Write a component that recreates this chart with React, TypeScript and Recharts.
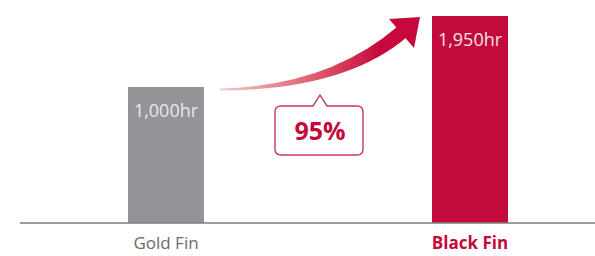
import { BarChart, Bar, XAxis, YAxis, Cell, LabelList, Customized } from "recharts";

const categories = ["Gold Fin", "Black Fin"];
const hours = [1000, 1950];
const hourLabels = ["1,000hr", "1,950hr"];
const barColors = ["#939498", "#c20a3d"];
const labelColors = ["#e9e9ea", "#f7e3e9"];
const tickColors = ["#6b6b6b", "#c20a3d"];
const improvement = "95%";

// axis floor sits below zero in the original artwork
const AXIS_MIN = -820;
const AXIS_MAX = 1950;

const data = categories.map((name, i) => ({
  name,
  hours: hours[i],
  label: hourLabels[i],
}));

const FONT = "'Open Sans', 'Noto Sans', sans-serif";

const CategoryTick = (props: any) => {
  const { x, y, payload, index } = props;
  return (
    <text
      x={x}
      y={y + 18}
      textAnchor="middle"
      fontSize={17}
      fontFamily={FONT}
      fontWeight={index === 1 ? 700 : 400}
      fill={tickColors[index]}
    >
      {payload.value}
    </text>
  );
};

const Annotation = () => (
  <g>
    <defs>
      <linearGradient id="arrowGrad" x1="220" y1="0" x2="420" y2="0" gradientUnits="userSpaceOnUse">
        <stop offset="0%" stopColor="#f4c9cc" />
        <stop offset="45%" stopColor="#dc6470" />
        <stop offset="80%" stopColor="#c8083c" />
        <stop offset="100%" stopColor="#c8083c" />
      </linearGradient>
    </defs>
    <path
      d="M220,88.5 Q328,86 397,27 L407,37 Q345,90 220,90.5 Z"
      fill="url(#arrowGrad)"
    />
    <path d="M389,19 L420,17 L414,48 Z" fill="#c8083c" />
    <path
      d="M281,106 L313,106 L320,95 L327,106 L357,106 Q363,106 363,112 L363,149 Q363,155 357,155 L281,155 Q275,155 275,149 L275,112 Q275,106 281,106 Z"
      fill="#ffffff"
      stroke="#c93a62"
      strokeWidth={1.4}
    />
    <text
      x={320}
      y={140}
      textAnchor="middle"
      fontSize={25}
      fontWeight={700}
      fontFamily={FONT}
      fill="#c20a3d"
    >
      {improvement}
    </text>
  </g>
);

export default function App() {
  return (
    <div style={{ width: 595, height: 256, overflow: "hidden", background: "#fff" }}>
      <style>{`body{margin:0}`}</style>
      <BarChart
        width={595}
        height={256}
        data={data}
        margin={{ top: 16, right: 0, bottom: 0, left: 20 }}
        barSize={76}
      >
        <XAxis
          dataKey="name"
          height={33}
          padding={{ left: -6, right: -27 }}
          axisLine={{ stroke: "#7d7d7d", strokeWidth: 1.5 }}
          tickLine={false}
          tick={<CategoryTick />}
          interval={0}
        />
        <YAxis hide type="number" domain={[AXIS_MIN, AXIS_MAX]} allowDataOverflow />
        <Bar
          dataKey={(d: any) => [AXIS_MIN, d.hours]}
          isAnimationActive={false}
        >
          {data.map((d, i) => (
            <Cell key={d.name} fill={barColors[i]} />
          ))}
          <LabelList
            dataKey="label"
            position="insideTop"
            content={(p: any) => (
              <text
                x={p.x + p.width / 2}
                y={p.y + 30}
                textAnchor="middle"
                fontSize={18}
                fontFamily={FONT}
                fill={labelColors[p.index]}
              >
                {p.value}
              </text>
            )}
          />
        </Bar>
        <Customized component={Annotation} />
      </BarChart>
    </div>
  );
}
